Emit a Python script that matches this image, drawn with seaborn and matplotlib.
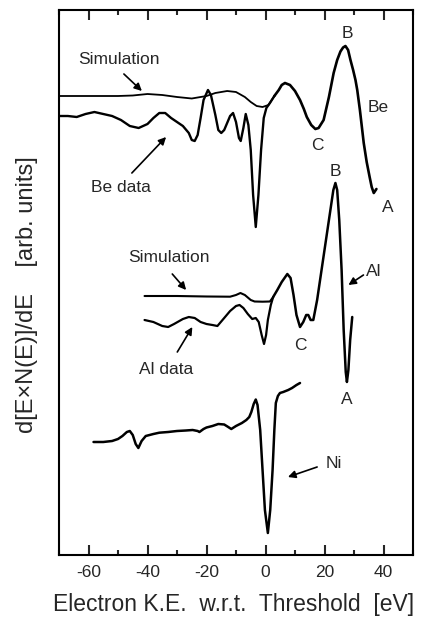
import matplotlib
matplotlib.use("Agg")
import matplotlib.pyplot as plt
import seaborn as sns
import pandas as pd
from matplotlib.ticker import MultipleLocator

# ---- data (x in eV, y in arbitrary units) ----
be_data_x = [-70, -67, -64, -61, -58, -55, -52, -49, -46, -43, -40, -38, -36, -34, -32, -30, -28, -26, -25, -24,
             -23, -22, -21, -19.5, -18.5, -17, -16, -15, -14, -12, -11, -10, -9, -8.4, -7.5, -6.7, -5.8, -5, -4.2,
             -3.3, -2.4, -1.5, -0.6, 0.3, 1.5, 3]
be_data_y = [439, 439, 438, 441, 443, 441, 439, 435, 429, 427, 431, 437, 442, 442, 437, 433, 429, 422, 415, 414,
             420, 437, 455, 465, 460, 440, 425, 422, 425, 439, 442, 433, 417, 414, 427, 441, 430, 405, 360,
             328, 360, 405, 437, 447, 452, 459]
be_sim_x = [-70, -60, -50, -45, -40, -35, -30, -25, -20, -17, -13, -10, -7, -5, -3, -1, 1, 3]
be_sim_y = [459, 459, 459, 459.5, 461, 460, 458, 456.5, 459, 462, 464, 463, 458, 453, 449, 448, 450, 459]
be_tail_x = [3, 4.5, 5.5, 6.6, 8.3, 10, 11.7, 13, 14, 15.5, 16.9, 18, 19.7, 21.5, 23.1, 24.3, 25.4, 26.3, 27.1,
             28, 28.8, 29.7, 30.5, 31.1, 32, 33.3, 34.3, 35.3, 36, 36.7, 37.6]
be_tail_y = [459, 465, 470, 472, 470, 464, 455, 446, 438, 430, 426, 427, 435, 458, 482, 495, 503.5, 507.5, 509,
             505, 495, 485, 475, 465, 445, 412, 393, 378, 368, 362, 366]

al_data_x = [-41, -38, -35, -33, -31, -28, -26, -24, -22, -20, -18, -16.3, -14, -12, -10, -8.8, -7.5, -6, -4.5,
             -3.3, -2.3, -1.3, -0.5, 0.2, 0.8, 1.8, 2.6]
al_data_y = [235, 233, 229, 228, 231, 236, 238, 237, 233, 231, 230, 229, 237, 244, 249, 250, 247, 241, 236,
             237, 233, 220, 211, 220, 235, 250, 258]
al_sim_x = [-41, -30, -20, -12, -10, -8.5, -7, -5, -3.7, -1, 1.5, 2.6]
al_sim_y = [259, 259, 258.5, 258.3, 260, 262, 260, 255, 253.5, 253.3, 253.5, 258]
al_tail_x = [2.6, 4, 5.5, 7.4, 8.5, 9.5, 10.5, 11.7, 12.8, 13.8, 14.5, 15.3, 16.2, 17.5, 19, 20.5, 22, 23, 23.7,
             24.3, 25, 25.8, 26.5, 27.2, 27.6, 28.1, 28.7, 29.4]
al_tail_y = [258, 265, 273, 281, 277, 260, 240, 228, 233, 240, 240, 235, 235, 255, 285, 315, 345, 365, 372,
             365, 335, 285, 225, 183, 173, 185, 215, 238]

ni_x = [-58.3, -55, -52, -50, -48.5, -47, -46, -45, -44, -43.1, -42, -40.6, -38, -36, -33, -30, -27, -24.7, -23,
        -22.4, -21, -20, -18, -16, -14, -12.8, -11.6, -10, -8, -6.5, -5.5, -4.8, -4, -3.3, -2.7, -1.8, -1, -0.2,
        0.8, 1.6, 2.4, 3, 3.5, 4.2, 4.9, 6, 7.7, 9, 10.5, 11.7]
ni_y = [113, 113, 114, 116, 119, 123, 124, 120, 111, 107, 114, 119, 121, 122.3, 123, 124, 124.5, 125, 124,
        123, 126, 127.5, 129, 131, 130.5, 128.3, 126, 129, 132, 135, 138, 143, 151, 155.5, 150, 125, 85, 45,
        22, 45, 85, 125, 152, 159, 162, 163, 165, 167, 170, 172]

x_ticks = [-60, -40, -20, 0, 20, 40]

# ---- figure ----
sns.set_style("ticks")
plt.rcParams['font.family'] = ['Liberation Sans', 'DejaVu Sans']
fig = plt.figure(figsize=(4.26, 6.19), dpi=100)
ax = fig.add_axes([59 / 426, 64 / 619, 354 / 426, 545 / 619])

def draw(x, y, lw):
    df = pd.DataFrame({"x": x, "y": y})
    sns.lineplot(data=df, x="x", y="y", sort=False, estimator=None, color="black", lw=lw, ax=ax)

draw(be_sim_x, be_sim_y, 1.3)
draw(be_data_x, be_data_y, 1.7)
draw(be_tail_x, be_tail_y, 1.9)
draw(al_sim_x, al_sim_y, 1.5)
draw(al_data_x, al_data_y, 1.6)
draw(al_tail_x, al_tail_y, 1.8)
draw(ni_x, ni_y, 1.8)

ax.set_xlim(-70, 50)
ax.set_ylim(0, 545)
ax.set_xticks(x_ticks)
ax.set_xticklabels([str(t) for t in x_ticks])
ax.xaxis.set_minor_locator(MultipleLocator(10))
ax.set_yticks([])
ax.tick_params(axis="x", which="major", direction="in", length=7, width=1.5, top=True, labelsize=12.5, pad=7)
ax.tick_params(axis="x", which="minor", direction="in", length=3.5, width=1.5, top=True)
for s in ax.spines.values():
    s.set_linewidth(1.5)
    s.set_color("black")

ax.set_xlabel("Electron K.E.  w.r.t.  Threshold  [eV]", fontsize=16.5)
ax.xaxis.set_label_coords(0.493, -0.070)
ax.set_ylabel("d[E×N(E)]/dE    [arb. units]", fontsize=17)
ax.yaxis.set_label_coords(-0.058, 0.478)

fs = 12.5
arrow = dict(arrowstyle="-|>", color="black", lw=1.2, mutation_scale=11, shrinkA=0, shrinkB=0)
ax.text(-49.7, 495, "Simulation", fontsize=fs, ha="center", va="center")
ax.annotate("", xy=(-41.9, 464), xytext=(-48, 481), arrowprops=arrow)
ax.text(-48.9, 367, "Be data", fontsize=fs, ha="center", va="center")
ax.annotate("", xy=(-33.7, 418), xytext=(-45.3, 382), arrowprops=arrow)
ax.text(27.8, 522, "B", fontsize=fs, ha="center", va="center")
ax.text(38.3, 447, "Be", fontsize=fs, ha="center", va="center")
ax.text(17.5, 410, "C", fontsize=fs, ha="center", va="center")
ax.text(41.4, 347, "A", fontsize=fs, ha="center", va="center")
ax.text(23.7, 383, "B", fontsize=fs, ha="center", va="center")

ax.text(-32.7, 297, "Simulation", fontsize=fs, ha="center", va="center")
ax.annotate("", xy=(-26.9, 265), xytext=(-31.6, 281), arrowprops=arrow)
ax.text(36.6, 283, "Al", fontsize=fs, ha="center", va="center")
ax.annotate("", xy=(28.1, 270), xytext=(33.2, 280), arrowprops=arrow)
ax.text(11.7, 210, "C", fontsize=fs, ha="center", va="center")
ax.text(-33.7, 185, "Al data", fontsize=fs, ha="center", va="center")
ax.annotate("", xy=(-24.8, 228), xytext=(-29.9, 203), arrowprops=arrow)
ax.text(27.7, 155, "A", fontsize=fs, ha="center", va="center")

ax.text(23, 92, "Ni", fontsize=fs, ha="center", va="center")
ax.annotate("", xy=(7.6, 78), xytext=(17.5, 88), arrowprops=arrow)

fig.savefig("out.png", dpi=100)
